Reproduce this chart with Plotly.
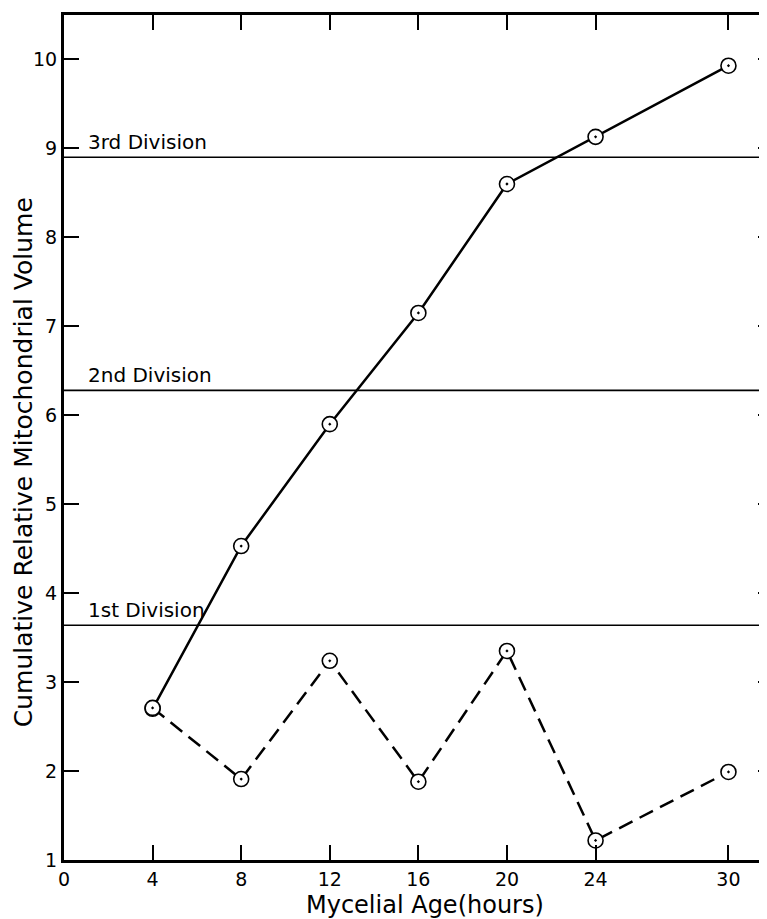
import plotly.graph_objects as go

# ---- data ----
hours = [4, 8, 12, 16, 20, 24, 30]
cumulative_volume = [2.70, 4.53, 5.90, 7.15, 8.60, 9.13, 9.93]
relative_volume = [2.71, 1.91, 3.24, 1.88, 3.35, 1.22, 1.99]

division_levels = [3.64, 6.28, 8.90]
division_labels = ["1st Division", "2nd Division", "3rd Division"]

x_ticks = [0, 4, 8, 12, 16, 20, 24, 30]
y_ticks = [1, 2, 3, 4, 5, 6, 7, 8, 9, 10]
y_ticks_right = [2, 3, 4, 5, 6, 7, 8, 9, 10]

x_range = [0, 31.74]
y_range = [1, 10.5]

FONT = "DejaVu Sans"

fig = go.Figure()

# division reference lines
for lvl, lab in zip(division_levels, division_labels):
    fig.add_hline(y=lvl, line=dict(color="black", width=1.6), layer="below")
    fig.add_annotation(x=1.0, y=lvl, text=lab, showarrow=False,
                       xanchor="left", yanchor="bottom", yshift=1,
                       font=dict(family=FONT, size=20, color="black"))

marker_style = dict(symbol="circle-dot", size=15, color="white",
                    line=dict(color="black", width=1.6))

fig.add_trace(go.Scatter(
    x=hours, y=cumulative_volume, mode="lines+markers",
    line=dict(color="black", width=2.5),
    marker=marker_style, showlegend=False))

fig.add_trace(go.Scatter(
    x=hours, y=relative_volume, mode="lines+markers",
    line=dict(color="black", width=2.5, dash="15px,8px"),
    marker=marker_style, showlegend=False))

# dummy trace to carry the right-hand tick axis
fig.add_trace(go.Scatter(x=[None], y=[None], yaxis="y2", showlegend=False,
                         hoverinfo="skip"))

fig.update_layout(
    width=759, height=911,
    margin=dict(l=56, r=0, t=7, b=59),
    paper_bgcolor="white", plot_bgcolor="white",
    font=dict(family=FONT, size=19, color="black"),
    xaxis=dict(range=x_range, tickvals=x_ticks, ticktext=[str(v) for v in x_ticks],
               ticks="inside", ticklen=15, tickwidth=2, tickcolor="black",
               showline=True, linewidth=3, linecolor="black", mirror="ticks",
               showgrid=False, zeroline=False,
               tickfont=dict(family=FONT, size=19)),
    yaxis=dict(range=y_range, tickvals=y_ticks,
               ticks="inside", ticklen=15, tickwidth=2, tickcolor="black",
               showline=True, linewidth=3, linecolor="black", mirror=False,
               showgrid=False, zeroline=False,
               tickfont=dict(family=FONT, size=19)),
    yaxis2=dict(range=y_range, overlaying="y", side="right", tickvals=y_ticks_right,
                ticks="inside", ticklen=9, tickwidth=2, tickcolor="black",
                showticklabels=False, showline=False, showgrid=False,
                zeroline=False),
)

fig.add_annotation(text="Mycelial Age(hours)", xref="paper", yref="paper",
                   x=0.5135, y=-0.053, showarrow=False,
                   xanchor="center", yanchor="middle",
                   font=dict(family=FONT, size=24, color="black"))
fig.add_annotation(text="Cumulative Relative Mitochondrial Volume", xref="paper",
                   yref="paper", x=-0.058, y=0.471, showarrow=False, textangle=-90,
                   xanchor="center", yanchor="middle",
                   font=dict(family=FONT, size=25, color="black"))

fig.write_html("out.html")
